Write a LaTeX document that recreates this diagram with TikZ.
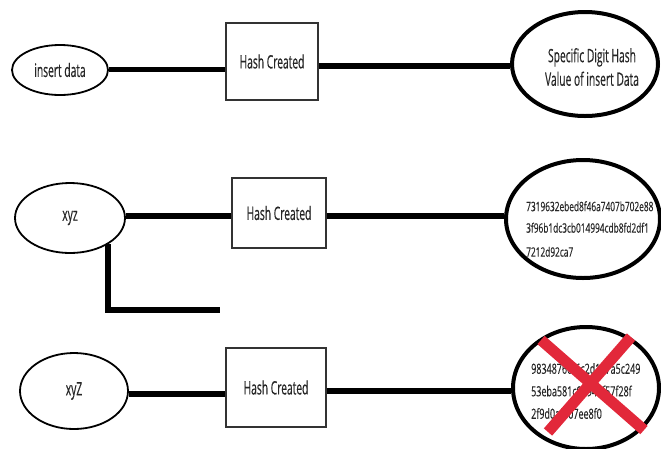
\documentclass[tikz,border=0pt]{standalone}
\usepackage{fontspec}
\usetikzlibrary{shapes.geometric}
\newfontfamily\condfont[FakeStretch=0.555, FakeBold=0.4]{Open Sans}
\newfontfamily\hashfont[FakeStretch=0.64, FakeBold=0.3]{Open Sans}
\definecolor{crossred}{HTML}{E2283A}
\tikzset{
  label text/.style={font=\condfont\fontsize{18.5}{23.5}\selectfont, text=black!85},
  hash text/.style={font=\hashfont\fontsize{13}{21.5}\selectfont, text=black!85, align=left, inner sep=0pt},
  input/.style={ellipse, draw, line width=1.8pt, inner sep=0pt, label text},
  output/.style={ellipse, draw, line width=4pt, inner sep=0pt},
  hashbox/.style={rectangle, draw=black!80, line width=1.1pt, inner sep=0pt, label text},
  link/.style={line width=5.5pt},
  cross/.style={draw=crossred, line width=11pt}
}
\begin{document}
\begin{tikzpicture}[x=1pt, y=-1pt]
\useasboundingbox (0,0) rectangle (661,448);

% row 1: generic description
\node[input, minimum width=96pt, minimum height=50pt] (in1) at (60,70) {insert data};
\node[hashbox, minimum width=92pt, minimum height=77pt] (box1) at (272,61.5) {Hash Created};
\node[output, minimum width=146pt, minimum height=104pt] (out1) at (585,64) {};
\node[label text, align=center, inner sep=0pt] (txt1) at (592,67)
  {Specific Digit Hash\\Value of insert Data};
\coordinate (y1a) at (0,69.5);
\coordinate (y1b) at (0,66);
\draw[link] (in1.east |- y1a) -- (box1.west |- y1a);
\draw[link] (box1.east |- y1b) -- (out1.west |- y1b);

% row 2: lower-case input
\node[input, minimum width=110pt, minimum height=70pt] (in2) at (70,218) {xyz};
\node[hashbox, minimum width=94pt, minimum height=70pt] (box2) at (279,213) {Hash Created};
\node[output, minimum width=154pt, minimum height=118pt] (out2) at (583,219) {};
\node[hash text, anchor=west] (txt2) at (526,229)
  {7319632ebed8f46a7407b702e88\\3f96b1dc3cb014994cdb8fd2df1\\[2.5pt]7212d92ca7};
\coordinate (y2) at (0,216);
\coordinate (branch) at (220,310);
\draw[link] (in2.east |- y2) -- (box2.west |- y2);
\draw[link] (box2.east |- y2) -- (out2.west |- y2);
\draw[link] (in2.-35) |- (branch);

% row 3: changed input, rejected hash
\node[input, minimum width=108pt, minimum height=76pt] (in3) at (74,391) {xyZ};
\node[hashbox, minimum width=100pt, minimum height=79pt] (box3) at (276,387.5) {Hash Created};
\node[output, minimum width=146pt, minimum height=122pt] (out3) at (586,388) {};
\node[hash text, font=\hashfont\fontsize{14}{22.5}\selectfont, anchor=west] (txt3) at (531,391)
  {98348766f6c2d167a5c249\\53eba581c0594ef57f28f\\2f9d0af107ee8f0};
\coordinate (y3a) at (0,394);
\coordinate (y3b) at (0,391);
\draw[link] (in3.east |- y3a) -- (box3.west |- y3a);
\draw[link] (box3.east |- y3b) -- (out3.west |- y3b);
\coordinate (xa) at (541,340);
\coordinate (xb) at (644,430);
\coordinate (xc) at (631,337);
\coordinate (xd) at (548,432);
\draw[cross] (xa) -- (xb);
\draw[cross] (xc) -- (xd);
\end{tikzpicture}
\end{document}
